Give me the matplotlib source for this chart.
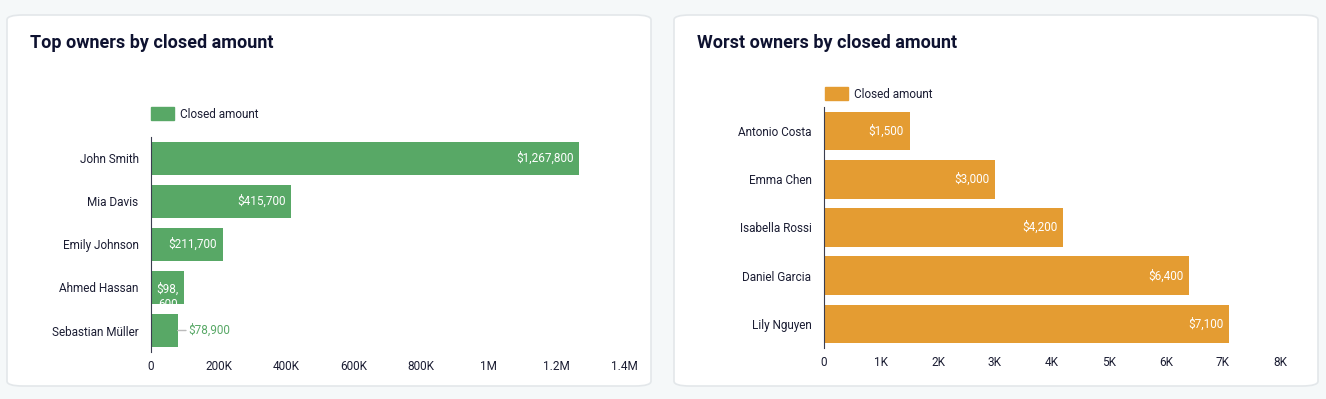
import matplotlib
matplotlib.use("Agg")
import matplotlib.pyplot as plt
from matplotlib.patches import FancyBboxPatch, Patch

plt.rcParams['font.family'] = ['Roboto', 'DejaVu Sans']

top_names = ["John Smith", "Mia Davis", "Emily Johnson", "Ahmed Hassan", "Sebastian Müller"]
top_values = [1267800, 415700, 211700, 98600, 78900]
worst_names = ["Antonio Costa", "Emma Chen", "Isabella Rossi", "Daniel Garcia", "Lily Nguyen"]
worst_values = [1500, 3000, 4200, 6400, 7100]
top_ticks = [0, 200000, 400000, 600000, 800000, 1000000, 1200000, 1400000]
top_tick_labels = ["0", "200K", "400K", "600K", "800K", "1M", "1.2M", "1.4M"]
worst_ticks = [0, 1000, 2000, 3000, 4000, 5000, 6000, 7000, 8000]
worst_tick_labels = ["0", "1K", "2K", "3K", "4K", "5K", "6K", "7K", "8K"]

GREEN = "#58a866"
ORANGE = "#e49c32"
DARK = "#1b1d33"
TITLE = "#0e1230"
BG = "#f5f8f9"

W, H = 1326, 399
fig = plt.figure(figsize=(W / 100, H / 100), dpi=100)
fig.patch.set_facecolor(BG)

def fx(px):
    return px / W

def fy(py):
    return 1 - py / H

# cards
for x0, x1 in [(7, 651), (674, 1318)]:
    card = FancyBboxPatch((fx(x0), fy(386)), fx(x1 - x0), (386 - 15) / H,
                          boxstyle="round,pad=0,rounding_size=0.012",
                          transform=fig.transFigure, facecolor="white",
                          edgecolor="#e3e7ea", linewidth=1.2, zorder=-10)
    fig.patches.append(card)

fig.text(fx(30), fy(43), "Top owners by closed amount", fontsize=13, fontweight="bold",
         color=TITLE, va="center", ha="left")
fig.text(fx(697), fy(43), "Worst owners by closed amount", fontsize=13, fontweight="bold",
         color=TITLE, va="center", ha="left")


def money(v):
    return "${:,.0f}".format(v)


def setup(ax, names, ticks, tick_labels, xmax):
    ax.set_facecolor("none")
    ax.set_xlim(0, xmax)
    ax.set_ylim(len(names) - 0.5, -0.5)
    ax.set_yticks(range(len(names)))
    ax.set_yticklabels(names, fontsize=8.5, color=DARK)
    ax.set_xticks(ticks)
    ax.set_xticklabels(tick_labels, fontsize=8.5, color=DARK)
    ax.tick_params(axis="both", length=0)
    ax.tick_params(axis="y", pad=9)
    ax.tick_params(axis="x", pad=6)
    for s in ["top", "right", "bottom"]:
        ax.spines[s].set_visible(False)
    ax.spines["left"].set_color("#3a3d4f")
    ax.spines["left"].set_linewidth(0.8)
    ax.spines["left"].set_zorder(4)


# left chart
ax1 = fig.add_axes([fx(151), 1 - 352 / H, fx(624 - 151), (352 - 137) / H])
bars1 = ax1.barh(range(len(top_names)), top_values, height=0.79, color=GREEN, zorder=2)
setup(ax1, top_names, top_ticks, top_tick_labels, 1400000)
for i, (b, v) in enumerate(zip(bars1, top_values)):
    if v > 150000:
        ax1.annotate(money(v), (v, i), xytext=(-4, 0), textcoords="offset points",
                     ha="right", va="center", color="white", fontsize=8.5, zorder=3)
    elif v > 90000:
        s = money(v)
        t = ax1.annotate(s[:4] + "\n" + s[4:], (v / 2, i), xytext=(0, 3.5),
                         textcoords="offset points", ha="center", va="top",
                         color="white", fontsize=8.5, linespacing=1.25, zorder=3)
        t.set_clip_path(b)
    else:
        ax1.annotate(money(v), (v, i), xytext=(8, 0), textcoords="offset points",
                     ha="left", va="center", color=GREEN, fontsize=8.5, zorder=3,
                     arrowprops=dict(arrowstyle="-", color="#bbbbbb", lw=1,
                                     shrinkA=0, shrinkB=0, relpos=(0, 0.5)))
leg1 = fig.legend(handles=[Patch(color=GREEN, label="Closed amount")],
                  loc="center left", bbox_to_anchor=(fx(146), fy(114)),
                  frameon=False, fontsize=8.5, handlelength=2.0, handleheight=1.2,
                  handletextpad=0.45, borderaxespad=0, labelcolor=DARK)

# right chart
ax2 = fig.add_axes([fx(824), 1 - 348 / H, fx(1280 - 824), (348 - 107) / H])
bars2 = ax2.barh(range(len(worst_names)), worst_values, height=0.8, color=ORANGE, zorder=2)
setup(ax2, worst_names, worst_ticks, worst_tick_labels, 8000)
for i, v in enumerate(worst_values):
    ax2.annotate(money(v), (v, i), xytext=(-4, 0), textcoords="offset points",
                 ha="right", va="center", color="white", fontsize=8.5, zorder=3)
leg2 = fig.legend(handles=[Patch(color=ORANGE, label="Closed amount")],
                  loc="center left", bbox_to_anchor=(fx(820), fy(94)),
                  frameon=False, fontsize=8.5, handlelength=2.0, handleheight=1.2,
                  handletextpad=0.45, borderaxespad=0, labelcolor=DARK)

fig.savefig("out.png", dpi=100, facecolor=BG)
